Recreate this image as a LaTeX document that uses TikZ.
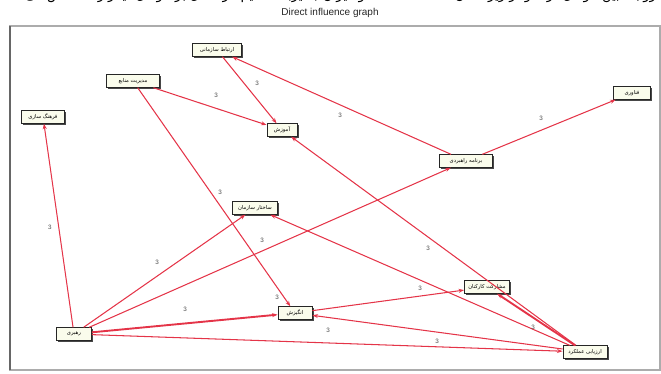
\documentclass[tikz,border=0pt]{standalone}
\usepackage{fontspec}
\setmainfont{Liberation Sans}
\newfontfamily\arabicfont[Script=Arabic]{DejaVu Sans}
\TeXXeTstate=1
\usetikzlibrary{arrows.meta,shadows}
\definecolor{edgecol}{RGB}{228,52,72}
\definecolor{boxfill}{RGB}{250,252,236}
\begin{document}
\begin{tikzpicture}[x=1pt,y=-1pt,
  box/.style={draw=black!85, line width=0.9pt, fill=boxfill, inner sep=0.6pt,
    minimum height=12.5pt, font=\arabicfont\fontsize{5.3}{6}\selectfont,
    drop shadow={shadow xshift=1.5pt, shadow yshift=-1.5pt, fill=black!80, opacity=0.9}},
  infl/.style={draw=edgecol, line width=1.05pt, -{Stealth[length=5.5pt,width=4pt]}},
  infl2/.style={infl, line width=1.9pt},
  lbl/.style={font=\fontsize{6.3}{7}\selectfont, text=black!70, inner sep=0pt}]
\useasboundingbox (0,0) rectangle (661,373);
% clipped line of page text at top
\node[font=\arabicfont\fontsize{13}{14}\selectfont, text=black] (pagetext) at (330,-5)
  {\beginR روابط بین عوامل در نمودار زیر نشان داده شده است و میزان (تاثیر) مستقیم هر عامل بر عوامل دیگر را مشخص می کند\endR};
% title and frame
\node[font=\fontsize{10}{12}\selectfont, text=black!85] (title) at (330,13) {Direct influence graph};
\draw[gray!65, line width=1.2pt] (10,26) rectangle (660,370);
\draw[gray!80!black, line width=1.4pt] (10,26) -- (10,370);
% nodes
\node[box, minimum width=49pt] (A) at (217,50) {\beginR ارتباط سازمانی\endR};
\node[box, minimum width=30pt] (B) at (282,130) {\beginR آموزش\endR};
\node[box, minimum width=53pt] (C) at (133,81) {\beginR مدیریت منابع\endR};
\node[box, minimum width=43pt] (D) at (43,117) {\beginR فرهنگ سازی\endR};
\node[box, minimum width=37pt] (E) at (632,93) {\beginR فناوری\endR};
\node[box, minimum width=53pt] (F) at (466,161) {\beginR برنامه راهبردی\endR};
\node[box, minimum width=45pt] (G) at (255,208) {\beginR ساختار سازمان\endR};
\node[box, minimum width=35pt] (H) at (74,334) {\beginR رهبری\endR};
\node[box, minimum width=34pt] (I) at (295,313) {\beginR انگیزش\endR};
\node[box, minimum width=45pt] (J) at (487,287) {\beginR مشارکت کارکنان\endR};
\node[box, minimum width=44pt] (K) at (585,352) {\beginR ارزیابی عملکرد\endR};
% connectors
\draw[infl] (C) -- (B);
\draw[infl] (A) -- (B);
\draw[infl] (F) -- (A);
\draw[infl] (F) -- (E);
\draw[infl] (H) -- (D);
\draw[infl] (H) -- (G);
\draw[infl] (H) -- (F);
\draw[infl] (C) -- (I);
\draw[infl2] (H) -- (I);
\draw[infl] (I) -- (J);
\draw[infl] (K) -- (I);
\draw[infl] (H) -- (K);
\draw[infl] (K) -- (B);
\draw[infl] (K) -- (G);
\draw[infl2] (K) -- (J);
% edge labels
\node[lbl] (l1) at (216,95) {3};
\node[lbl] (l2) at (257,83) {3};
\node[lbl] (l3) at (340,115) {3};
\node[lbl] (l4) at (541,118) {3};
\node[lbl] (l5) at (50,227) {3};
\node[lbl] (l6) at (157,262) {3};
\node[lbl] (l7) at (262,240) {3};
\node[lbl] (l8) at (220,192) {3};
\node[lbl] (l9) at (277,297) {3};
\node[lbl] (l10) at (185,309) {3};
\node[lbl] (l11) at (420,288) {3};
\node[lbl] (l12) at (328,330) {3};
\node[lbl] (l13) at (437,341) {3};
\node[lbl] (l14) at (428,248) {3};
\node[lbl] (l15) at (533,327) {3};
\end{tikzpicture}
\end{document}
